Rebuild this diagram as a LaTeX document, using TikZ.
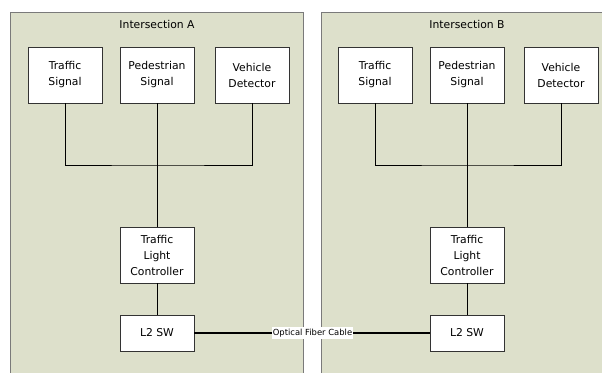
\documentclass[tikz,border=0pt]{standalone}
\usepackage{fontspec}
\setmainfont{DejaVu Sans}
\definecolor{panelfill}{HTML}{DDE0CB}
\definecolor{panelline}{HTML}{7A7A7A}
\definecolor{boxline}{HTML}{333333}
\begin{document}
\begin{tikzpicture}[x=1pt,y=-1pt,
  panel/.style={draw=panelline,line width=1pt,fill=panelfill},
  title/.style={font=\fontsize{10.8}{16}\selectfont,inner sep=0pt},
  devbox/.style={draw=boxline,line width=0.9pt,fill=white,minimum width=74pt,
    minimum height=56pt,align=center,inner sep=0pt,font=\fontsize{10.8}{16}\selectfont},
  swbox/.style={devbox,minimum height=36pt},
  link/.style={draw=black,line width=0.9pt},
  fiber/.style={draw=black,line width=1.8pt},
  fiberlabel/.style={fill=white,inner xsep=1pt,inner ysep=1.5pt,font=\fontsize{8.4}{10}\selectfont}]
\useasboundingbox (0,0) rectangle (602,372);
\clip (0,0) rectangle (602,372);
\fill[white] (0,0) rectangle (602,372);

% the two intersection panels
\draw[panel] (10.5,12) rectangle (303,385);
\draw[panel] (321,12) rectangle (620,385);
\node[title] (titleA) at (157,24) {Intersection A};
\node[title] (titleB) at (467,24) {Intersection B};

% Intersection A devices
\node[devbox] (tsA) at (65,75) {Traffic\\Signal};
\node[devbox] (psA) at (157,75) {Pedestrian\\Signal};
\node[devbox] (vdA) at (252,75) {Vehicle\\Detector};
\node[devbox] (tlcA) at (157,255) {Traffic\\Light\\Controller};
\node[swbox] (swA) at (157,333) {L2 SW};
\coordinate (busA) at (157,165);

% Intersection B devices
\node[devbox] (tsB) at (375,75) {Traffic\\Signal};
\node[devbox] (psB) at (467,75) {Pedestrian\\Signal};
\node[devbox] (vdB) at (561,75) {Vehicle\\Detector};
\node[devbox] (tlcB) at (467,255) {Traffic\\Light\\Controller};
\node[swbox] (swB) at (467,333) {L2 SW};
\coordinate (busB) at (467,165);

% signal bus and controller links
\draw[link] (tsA.south) |- (busA) -| (vdA.south);
\draw[link] (psA.south) -- (tlcA.north);
\draw[link] (tlcA.south) -- (swA.north);
\draw[link] (tsB.south) |- (busB) -| (vdB.south);
\draw[link] (psB.south) -- (tlcB.north);
\draw[link] (tlcB.south) -- (swB.north);

% optical fiber between the switches
\node[fiberlabel] (fib) at (312.5,333) {Optical Fiber Cable};
\draw[fiber] (swA.east) -- (fib.west);
\draw[fiber] (fib.east) -- (swB.west);
\end{tikzpicture}
\end{document}
